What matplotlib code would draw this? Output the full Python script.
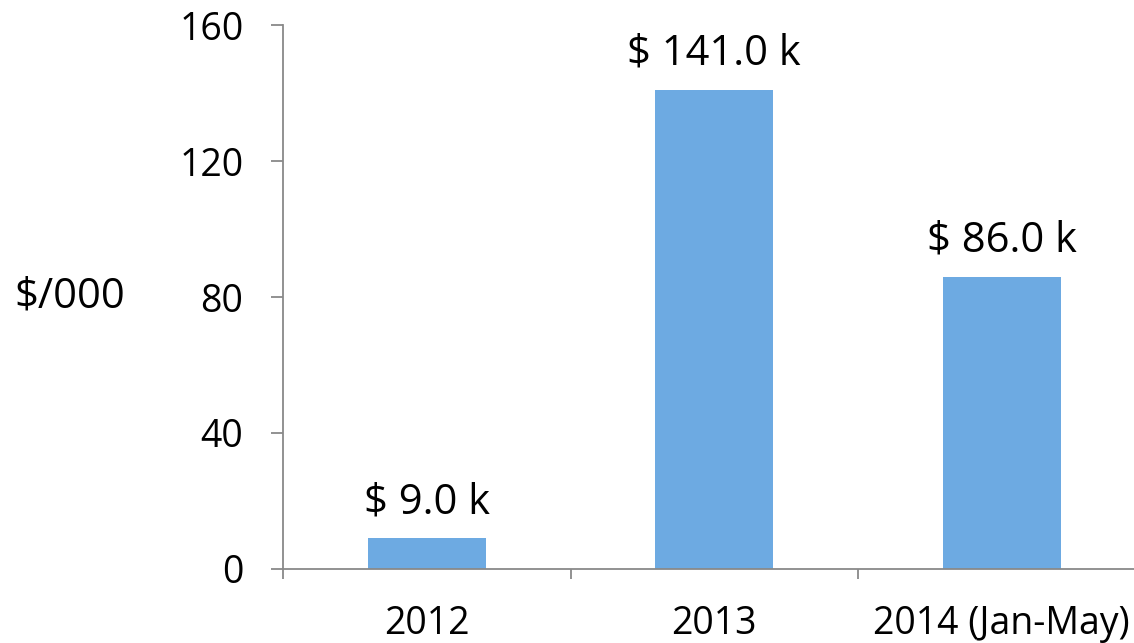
import matplotlib.pyplot as plt

# Chart data
years = ['2012', '2013', '2014 (Jan-May)']
amounts = [9.0, 141.0, 86.0]  # $ thousands
y_ticks = [0, 40, 80, 120, 160]

plt.rcParams['font.family'] = ['Open Sans', 'DejaVu Sans']

bar_color = '#6DAAE2'
axis_color = '#898989'

fig = plt.figure(figsize=(11.34, 6.43), dpi=100)
ax = fig.add_axes([0.2496, 0.1151, 0.7504, 0.846])

x = range(len(years))
bars = ax.bar(x, amounts, width=0.41, color=bar_color)

# Value labels above bars
for xi, v in zip(x, amounts):
    ax.annotate(f'$ {v:.1f} k', (xi, v), xytext=(0, 11), textcoords='offset points',
                ha='center', va='bottom', fontsize=30)

ax.set_yticks(y_ticks)

# Ticks at category boundaries, labels at centres
ax.set_xticks([-0.5, 0.5, 1.5, 2.5])
ax.set_xticklabels([])
ax.set_xticks(list(x), years, minor=True)
ax.tick_params(axis='x', which='minor', length=0, pad=26, labelsize=27)
ax.tick_params(axis='x', which='major', length=7.5, width=1.3, color=axis_color)
ax.tick_params(axis='y', length=8.5, width=1.3, color=axis_color, pad=20, labelsize=27)

ax.set_ylim(0, 160)
ax.set_xlim(-0.5, 2.46)

for side in ['top', 'right']:
    ax.spines[side].set_visible(False)
for side in ['left', 'bottom']:
    ax.spines[side].set_color(axis_color)
    ax.spines[side].set_linewidth(1.3)

fig.text(70 / 1134, 1 - 296 / 643, '$/000', ha='center', va='center', fontsize=30)

fig.savefig('out.png', dpi=100)
